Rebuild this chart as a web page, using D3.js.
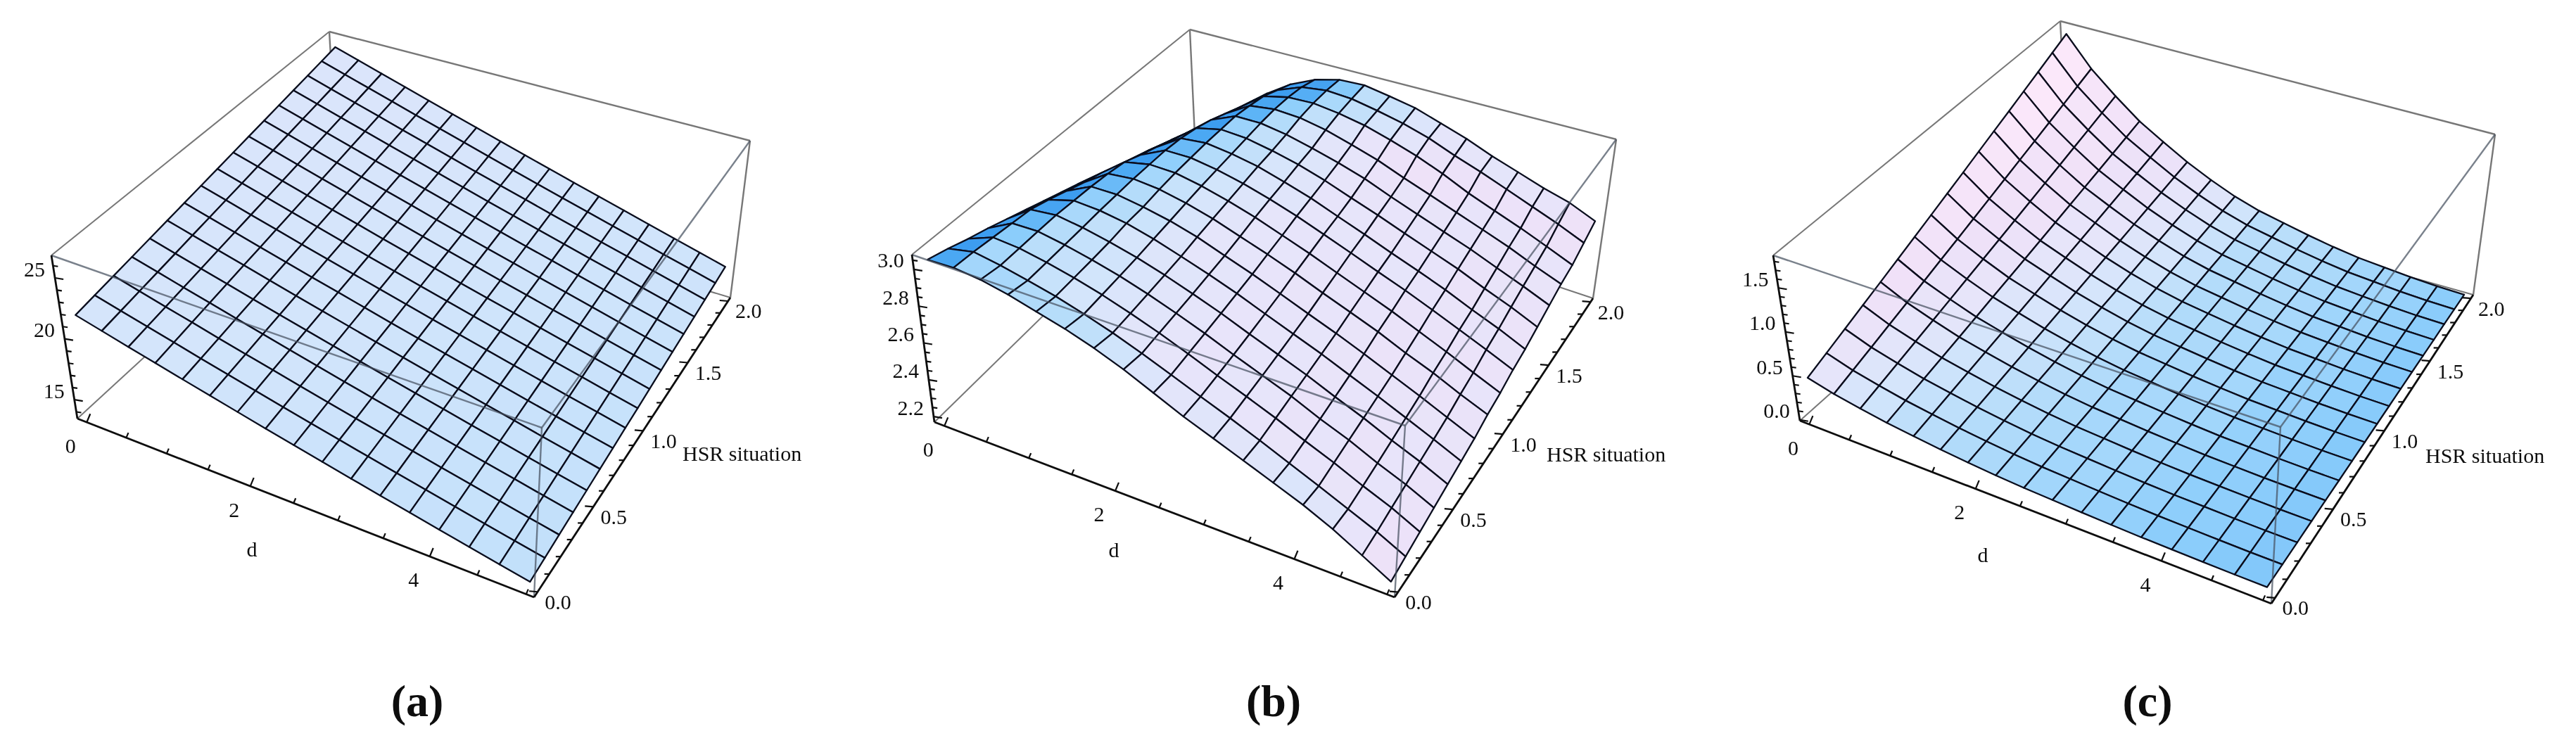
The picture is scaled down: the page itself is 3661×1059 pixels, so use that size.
<!DOCTYPE html>
<html>
<head>
<meta charset="utf-8">
<script src="https://cdn.jsdelivr.net/npm/d3@7"></script>
<style>
  body { margin: 0; background: #fff; }
  text { font-family: "Liberation Serif", serif; fill: #111; }
</style>
</head>
<body>
<div id="chart"></div>
<script>
const dValues = [0, 0.3125, 0.625, 0.9375, 1.25, 1.5625, 1.875, 2.1875, 2.5, 2.8125, 3.125, 3.4375, 3.75, 4.0625, 4.375, 4.6875, 5];
const hsrValues = [0, 0.125, 0.25, 0.375, 0.5, 0.625, 0.75, 0.875, 1, 1.125, 1.25, 1.375, 1.5, 1.625, 1.75, 1.875, 2];

const dTicks = [0, 0.5, 1, 1.5, 2, 2.5, 3, 3.5, 4, 4.5, 5];
const dLabels = [0, 2, 4];
const hsrTicks = [0, 0.1, 0.2, 0.3, 0.4, 0.5, 0.6, 0.7, 0.8, 0.9, 1, 1.1, 1.2, 1.3, 1.4, 1.5, 1.6, 1.7, 1.8, 1.9, 2];
const hsrLabels = [0, 0.5, 1, 1.5, 2];

const zTicksA = [14, 15, 16, 17, 18, 19, 20, 21, 22, 23, 24, 25, 26];
const zLabelsA = [15, 20, 25];
const zTicksB = [2.2, 2.25, 2.3, 2.35, 2.4, 2.45, 2.5, 2.55, 2.6, 2.65, 2.7, 2.75, 2.8, 2.85, 2.9, 2.95, 3, 3.05];
const zLabelsB = [2.2, 2.4, 2.6, 2.8, 3];
const zTicksC = [0, 0.1, 0.2, 0.3, 0.4, 0.5, 0.6, 0.7, 0.8, 0.9, 1, 1.1, 1.2, 1.3, 1.4, 1.5, 1.6, 1.7, 1.8];
const zLabelsC = [0, 0.5, 1, 1.5];

// rows: hsr 0 -> 2, columns: d 0 -> 5
const surfaceA = [
  [21.90,21.36,20.82,20.29,19.76,19.24,18.73,18.22,17.72,17.23,16.75,16.28,15.81,15.35,14.89,14.44,14.00],
  [22.15,21.60,21.06,20.52,19.98,19.46,18.94,18.42,17.91,17.42,16.93,16.45,15.98,15.51,15.04,14.58,14.14],
  [22.40,21.85,21.29,20.75,20.20,19.67,19.15,18.62,18.11,17.60,17.11,16.63,16.14,15.67,15.19,14.73,14.28],
  [22.65,22.09,21.53,20.98,20.43,19.89,19.35,18.82,18.30,17.79,17.29,16.80,16.31,15.83,15.35,14.87,14.41],
  [22.90,22.33,21.76,21.21,20.65,20.10,19.56,19.02,18.50,17.98,17.47,16.97,16.47,15.99,15.50,15.02,14.55],
  [23.15,22.58,22.00,21.44,20.87,20.32,19.77,19.23,18.69,18.17,17.65,17.15,16.64,16.15,15.65,15.17,14.69],
  [23.40,22.82,22.24,21.66,21.09,20.53,19.98,19.43,18.88,18.35,17.83,17.32,16.81,16.30,15.80,15.31,14.83],
  [23.65,23.06,22.47,21.89,21.31,20.75,20.19,19.63,19.08,18.54,18.01,17.49,16.97,16.46,15.95,15.46,14.97],
  [23.90,23.30,22.71,22.12,21.54,20.96,20.39,19.83,19.27,18.73,18.19,17.66,17.14,16.62,16.11,15.60,15.10],
  [24.15,23.55,22.94,22.35,21.76,21.18,20.60,20.03,19.47,18.91,18.37,17.84,17.30,16.78,16.26,15.75,15.24],
  [24.40,23.79,23.18,22.58,21.98,21.39,20.81,20.23,19.66,19.10,18.55,18.01,17.47,16.94,16.41,15.89,15.38],
  [24.65,24.03,23.42,22.81,22.20,21.61,21.02,20.43,19.85,19.29,18.73,18.18,17.64,17.10,16.56,16.04,15.52],
  [24.90,24.28,23.65,23.04,22.42,21.82,21.23,20.63,20.05,19.47,18.91,18.36,17.80,17.26,16.71,16.18,15.66],
  [25.15,24.52,23.89,23.27,22.65,22.04,21.43,20.83,20.24,19.66,19.09,18.53,17.97,17.42,16.87,16.33,15.79],
  [25.40,24.76,24.12,23.50,22.87,22.25,21.64,21.03,20.44,19.85,19.27,18.70,18.13,17.58,17.02,16.47,15.93],
  [25.65,25.00,24.36,23.73,23.09,22.47,21.85,21.24,20.63,20.04,19.45,18.88,18.30,17.74,17.17,16.62,16.07],
  [25.90,25.25,24.60,23.95,23.31,22.68,22.06,21.44,20.82,20.22,19.63,19.05,18.47,17.89,17.32,16.76,16.21]
];

const surfaceB = [
  [3.050,3.055,3.040,3.010,2.970,2.930,2.880,2.820,2.750,2.680,2.620,2.560,2.500,2.440,2.370,2.290,2.210],
  [3.020,3.050,3.025,2.993,2.957,2.913,2.863,2.806,2.745,2.683,2.623,2.560,2.495,2.431,2.366,2.303,2.230],
  [2.985,3.040,3.028,2.999,2.964,2.922,2.872,2.818,2.758,2.695,2.636,2.575,2.509,2.448,2.381,2.321,2.250],
  [2.955,3.030,3.032,3.005,2.971,2.931,2.883,2.829,2.771,2.708,2.649,2.591,2.523,2.465,2.397,2.338,2.270],
  [2.920,3.020,3.035,3.012,2.980,2.941,2.894,2.841,2.785,2.723,2.664,2.606,2.541,2.481,2.415,2.356,2.290],
  [2.885,2.990,3.030,3.020,2.995,2.955,2.906,2.855,2.800,2.739,2.680,2.622,2.559,2.498,2.435,2.373,2.310],
  [2.850,2.955,3.025,3.025,3.000,2.968,2.925,2.869,2.815,2.756,2.696,2.639,2.578,2.515,2.454,2.391,2.330],
  [2.815,2.920,3.015,3.030,3.015,2.982,2.940,2.887,2.835,2.779,2.718,2.661,2.604,2.539,2.482,2.417,2.360],
  [2.780,2.890,3.000,3.030,3.025,2.995,2.955,2.908,2.853,2.798,2.739,2.681,2.624,2.562,2.502,2.439,2.380],
  [2.740,2.850,2.960,3.030,3.030,3.005,2.970,2.925,2.875,2.818,2.761,2.703,2.648,2.589,2.529,2.470,2.410],
  [2.700,2.815,2.925,3.020,3.035,3.015,2.985,2.940,2.892,2.834,2.778,2.720,2.666,2.610,2.548,2.492,2.430],
  [2.660,2.780,2.885,3.000,3.035,3.025,2.995,2.958,2.910,2.854,2.801,2.744,2.690,2.637,2.576,2.521,2.460],
  [2.620,2.740,2.850,2.970,3.035,3.035,3.010,2.972,2.930,2.882,2.822,2.767,2.713,2.661,2.603,2.548,2.490],
  [2.585,2.700,2.810,2.930,3.020,3.040,3.030,3.000,2.955,2.908,2.848,2.794,2.739,2.686,2.633,2.573,2.520],
  [2.550,2.660,2.770,2.890,3.000,3.035,3.040,3.020,2.990,2.945,2.895,2.835,2.766,2.710,2.656,2.598,2.540],
  [2.490,2.615,2.735,2.855,2.960,3.020,3.040,3.030,3.000,2.965,2.920,2.860,2.808,2.751,2.695,2.640,2.580],
  [2.430,2.570,2.700,2.820,2.920,2.990,3.030,3.037,3.010,2.980,2.930,2.880,2.820,2.770,2.720,2.680,2.620]
];

const surfaceC = [
  [0.470,0.394,0.338,0.288,0.250,0.214,0.184,0.158,0.138,0.124,0.110,0.098,0.088,0.082,0.076,0.072,0.070],
  [0.552,0.460,0.392,0.331,0.285,0.241,0.205,0.173,0.149,0.132,0.115,0.100,0.088,0.081,0.073,0.068,0.066],
  [0.634,0.525,0.445,0.374,0.319,0.268,0.225,0.188,0.160,0.140,0.120,0.102,0.088,0.080,0.071,0.065,0.063],
  [0.716,0.591,0.499,0.417,0.355,0.296,0.246,0.204,0.171,0.148,0.125,0.105,0.089,0.079,0.069,0.062,0.059],
  [0.797,0.656,0.552,0.459,0.389,0.322,0.266,0.218,0.181,0.155,0.129,0.107,0.088,0.077,0.066,0.059,0.055],
  [0.879,0.722,0.606,0.502,0.424,0.349,0.287,0.233,0.192,0.163,0.134,0.109,0.088,0.076,0.063,0.055,0.051],
  [0.961,0.788,0.660,0.546,0.459,0.377,0.308,0.249,0.203,0.171,0.139,0.111,0.089,0.075,0.061,0.052,0.048],
  [1.043,0.853,0.713,0.588,0.494,0.404,0.329,0.264,0.214,0.179,0.144,0.114,0.089,0.074,0.059,0.049,0.044],
  [1.125,0.919,0.767,0.631,0.528,0.431,0.349,0.279,0.224,0.186,0.149,0.116,0.089,0.073,0.056,0.045,0.040],
  [1.206,0.984,0.820,0.674,0.563,0.457,0.369,0.293,0.235,0.194,0.153,0.118,0.089,0.071,0.054,0.042,0.036],
  [1.289,1.050,0.874,0.717,0.598,0.485,0.390,0.309,0.246,0.202,0.158,0.120,0.089,0.070,0.051,0.039,0.033],
  [1.371,1.116,0.928,0.760,0.633,0.512,0.411,0.324,0.257,0.210,0.163,0.123,0.089,0.069,0.049,0.036,0.029],
  [1.452,1.181,0.981,0.803,0.667,0.539,0.432,0.339,0.268,0.218,0.168,0.125,0.089,0.068,0.046,0.032,0.025],
  [1.534,1.247,1.035,0.846,0.702,0.566,0.452,0.354,0.278,0.225,0.172,0.127,0.089,0.066,0.044,0.029,0.021],
  [1.616,1.312,1.088,0.888,0.737,0.593,0.473,0.369,0.289,0.233,0.177,0.129,0.090,0.065,0.042,0.026,0.018],
  [1.698,1.378,1.142,0.932,0.772,0.620,0.494,0.385,0.300,0.241,0.182,0.132,0.090,0.065,0.039,0.022,0.014],
  [1.780,1.444,1.196,0.975,0.807,0.647,0.514,0.399,0.311,0.249,0.187,0.134,0.090,0.063,0.037,0.019,0.010]
];

const width = 3661;
const height = 1059;

// screen corners of each plot box: floor and ceiling, in the order
// d0/h0, d5/h0, d5/h2, d0/h2
const panels = [
  {
    caption: "(a)", captionX: 593,
    floor: [[110, 595], [759, 849], [1038, 423], [480, 255]],
    ceil: [[73, 363], [770, 608], [1066, 200], [468, 45]],
    zDomain: [13.45, 26.85], surface: surfaceA, zTicks: zTicksA, zLabels: zLabelsA,
    zFormat: d3.format("d"), titleD: [358, 780], titleHsr: [970, 644]
  },
  {
    caption: "(b)", captionX: 1810,
    floor: [[1328, 600], [1982, 849], [2264, 424], [1700, 236]],
    ceil: [[1296, 362], [1997, 605], [2297, 198], [1691, 42]],
    zDomain: [2.17, 3.08], surface: surfaceB, zTicks: zTicksB, zLabels: zLabelsB,
    zFormat: d3.format(".1f"), titleD: [1583, 781], titleHsr: [2198, 645]
  },
  {
    caption: "(c)", captionX: 3052,
    floor: [[2558, 598], [3228, 858], [3515, 419], [2940, 257]],
    ceil: [[2520, 363], [3241, 607], [3546, 191], [2928, 30]],
    zDomain: [-0.01, 1.87], surface: surfaceC, zTicks: zTicksC, zLabels: zLabelsC,
    zFormat: d3.format(".1f"), titleD: [2818, 788], titleHsr: [3447, 647]
  }
];

const uScale = d3.scaleLinear().domain([-0.12, 5.08]).range([0, 1]);
const vScale = d3.scaleLinear().domain([-0.03, 2.03]).range([0, 1]);

// colour follows the surface tilt (in box units)
const tiltColor = d3.scaleLinear()
  .domain([-1, -0.3, 0.05, 0.2, 0.5, 0.85, 1.2, 1.7, 3])
  .range(["#3d9df0", "#55aff5", "#8ccdfb", "#a2d6fb", "#b4dcfa", "#d3e5fb", "#e6e5fa", "#efe1f8", "#fbe8fa"])
  .clamp(true);

const pathLine = d3.line();

const svg = d3.select("#chart")
  .append("svg")
    .attr("width", width)
    .attr("height", height);

svg.append("defs").append("filter")
    .attr("id", "soft")
  .append("feGaussianBlur")
    .attr("stdDeviation", 0.45);

const root = svg.append("g").attr("filter", "url(#soft)");

function homography(q) {
  const [[x0, y0], [x1, y1], [x2, y2], [x3, y3]] = q;
  const dx1 = x1 - x2, dx2 = x3 - x2, sx = x0 - x1 + x2 - x3;
  const dy1 = y1 - y2, dy2 = y3 - y2, sy = y0 - y1 + y2 - y3;
  const den = dx1 * dy2 - dx2 * dy1;
  const g = (sx * dy2 - dx2 * sy) / den;
  const h = (dx1 * sy - sx * dy1) / den;
  const a = x1 - x0 + g * x1, b = x3 - x0 + h * x3;
  const d = y1 - y0 + g * y1, e = y3 - y0 + h * y3;
  return (u, v) => {
    const k = g * u + h * v + 1;
    return [(a * u + b * v + x0) / k, (d * u + e * v + y0) / k];
  };
}

function drawPanel(p) {
  const g = root.append("g");
  const zScale = d3.scaleLinear().domain(p.zDomain).range([0, 1]);
  const floorAt = homography(p.floor);
  const ceilAt = homography(p.ceil);
  const project = (u, v, w) => {
    const a = floorAt(u, v), b = ceilAt(u, v);
    return [a[0] + (b[0] - a[0]) * w, a[1] + (b[1] - a[1]) * w];
  };
  const edge = (target, from, to, color, sw) => target.append("path")
    .attr("d", pathLine([project(...from), project(...to)]))
    .attr("fill", "none")
    .attr("stroke", color)
    .attr("stroke-width", sw);

  // box edges behind the surface
  const back = "#777";
  edge(g, [0, 0, 1], [0, 1, 1], back, 2);
  edge(g, [0, 1, 1], [1, 1, 1], back, 2.4);
  edge(g, [0, 1, 1], [0, 1, 0], back, 2.4);
  edge(g, [1, 1, 1], [1, 1, 0], back, 2.4);
  edge(g, [0, 0, 0], [0, 1, 0], back, 2);
  edge(g, [0, 1, 0], [1, 1, 0], back, 2);

  // surface cells, far corner first
  const cells = [];
  for (let k = hsrValues.length - 2; k >= 0; k--) {
    for (let j = 0; j < dValues.length - 1; j++) {
      cells.push({ k, j });
    }
  }
  const zRange = p.zDomain[1] - p.zDomain[0];
  const z = p.surface;
  const node = (k, j) => project(uScale(dValues[j]), vScale(hsrValues[k]), zScale(z[k][j]));

  g.append("g").selectAll("path")
    .data(cells)
    .enter()
    .append("path")
    .attr("d", c => pathLine([node(c.k, c.j), node(c.k, c.j + 1), node(c.k + 1, c.j + 1), node(c.k + 1, c.j)]) + "Z")
    .attr("fill", c => {
      const dropD = (z[c.k][c.j] - z[c.k][c.j + 1] + z[c.k + 1][c.j] - z[c.k + 1][c.j + 1]) / 2;
      const riseH = (z[c.k + 1][c.j] - z[c.k][c.j] + z[c.k + 1][c.j + 1] - z[c.k][c.j + 1]) / 2;
      return tiltColor((dropD + 0.8 * riseH) * 16 / zRange);
    })
    .attr("stroke", "#070b1c")
    .attr("stroke-width", 2.3)
    .attr("stroke-linejoin", "round");

  // box edges in front, seen through the surface
  const front = "rgba(70,80,95,0.72)";
  edge(g, [0, 0, 1], [1, 0, 1], front, 2.4);
  edge(g, [1, 0, 1], [1, 1, 1], front, 2.4);
  edge(g, [1, 0, 1], [1, 0, 0], front, 2.4);

  // axes
  edge(g, [0, 0, 0], [0, 0, 1], "#0b0b0b", 2.8);
  edge(g, [0, 0, 0], [1, 0, 0], "#0b0b0b", 2.8);
  edge(g, [1, 0, 0], [1, 1, 0], "#0b0b0b", 2.8);

  const tick = (a, dx, dy) => g.append("path")
    .attr("d", pathLine([a, [a[0] + dx, a[1] + dy]]))
    .attr("stroke", "#0b0b0b")
    .attr("stroke-width", 2.2)
    .attr("fill", "none");
  const label = (x, y, s, anchor) => g.append("text")
    .attr("x", x)
    .attr("y", y)
    .attr("dy", "0.35em")
    .attr("text-anchor", anchor)
    .attr("font-size", 30)
    .text(s);

  p.zTicks.forEach(t => {
    const a = project(0, 0, zScale(t));
    const major = p.zLabels.includes(t);
    tick(a, major ? 12 : 7, major ? 2 : 1);
    if (major) label(a[0] - 14, a[1] - 13, p.zFormat(t), "end");
  });
  dTicks.forEach(t => {
    const a = project(uScale(t), 0, 0);
    const major = dLabels.includes(t);
    tick(a, major ? 5 : 3, major ? -12 : -7);
    if (major) label(a[0] - 23, a[1] + 33, t, "middle");
  });
  hsrTicks.forEach(t => {
    const a = project(1, vScale(t), 0);
    const major = hsrLabels.includes(t);
    tick(a, major ? -12 : -7, major ? -1 : 0);
    if (major) label(a[0] + 29, a[1] + 14, d3.format(".1f")(t), "middle");
  });

  label(p.titleD[0], p.titleD[1], "d", "middle");
  label(p.titleHsr[0], p.titleHsr[1], "HSR situation", "start");

  root.append("text")
    .attr("x", p.captionX)
    .attr("y", 996)
    .attr("dy", "0.35em")
    .attr("text-anchor", "middle")
    .attr("font-size", 64)
    .attr("font-weight", "bold")
    .text(p.caption);
}

panels.forEach(drawPanel);
</script>
</body>
</html>
